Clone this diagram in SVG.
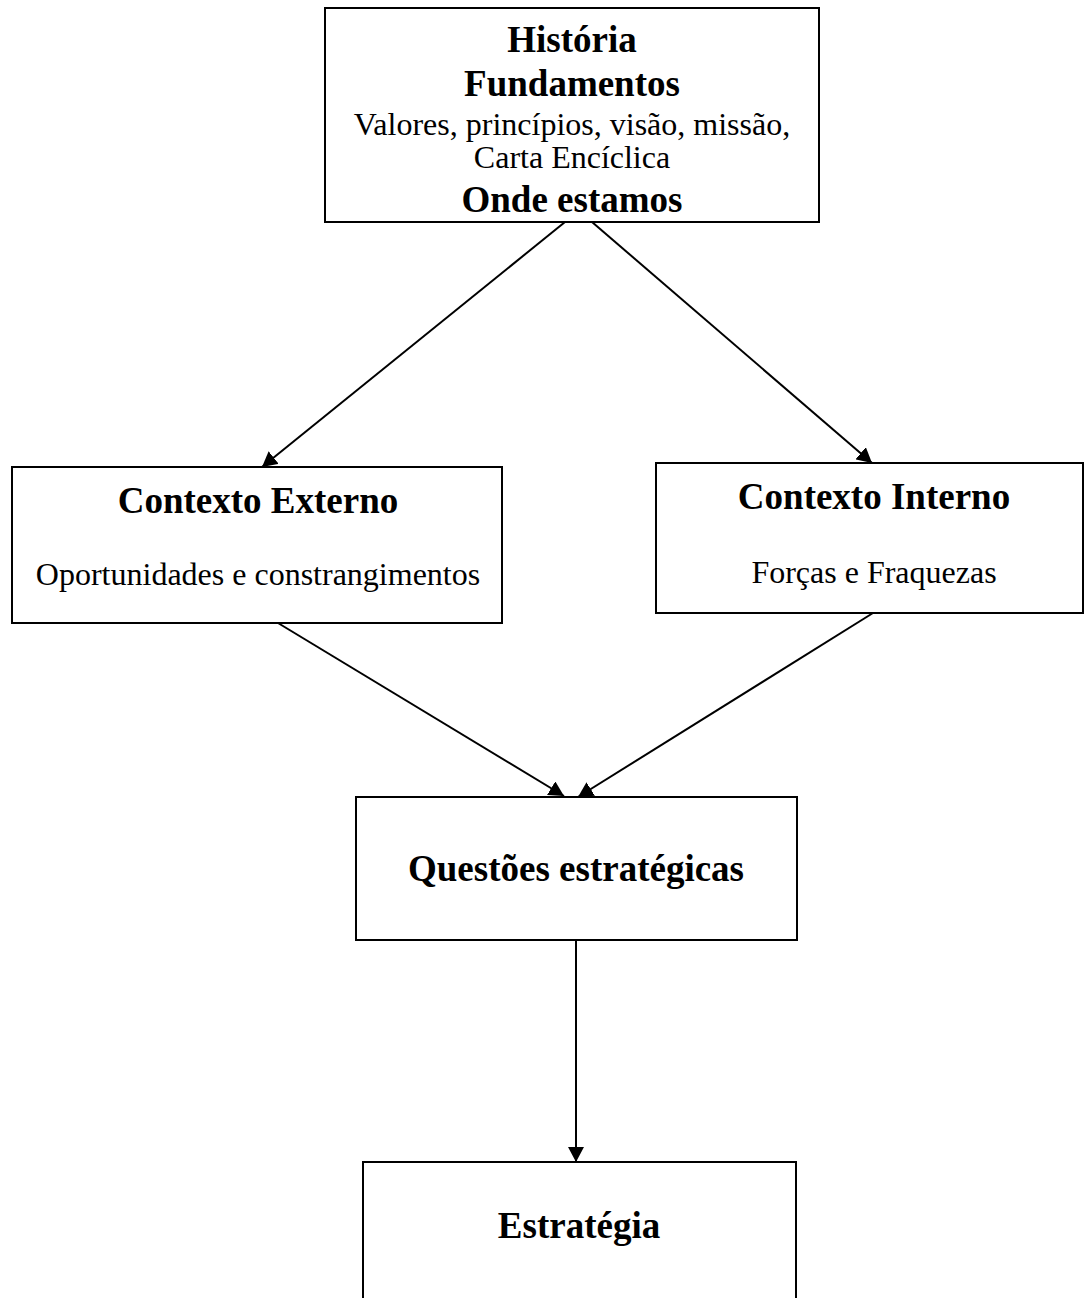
<svg xmlns="http://www.w3.org/2000/svg" width="1084" height="1298" viewBox="0 0 1084 1298">
<style>
.box{fill:#fff;stroke:#000;stroke-width:2}
.b{font-family:"Liberation Serif","Times New Roman",serif;font-weight:bold;font-size:37px;fill:#000;text-anchor:middle}
.r{font-family:"Liberation Serif","Times New Roman",serif;font-size:32px;fill:#000;text-anchor:middle}
.c{stroke:#000;stroke-width:2;fill:none;marker-end:url(#ah)}
</style>
<defs>
<marker id="ah" markerUnits="userSpaceOnUse" markerWidth="16" markerHeight="16" refX="15" refY="8" orient="auto">
<path d="M0,0 L15,8 L0,16 z" fill="#000"/>
</marker>
</defs>
<rect width="1084" height="1298" fill="#fff"/>
<g id="connectors">
<line class="c" x1="565" y1="222" x2="262" y2="467"/>
<line class="c" x1="592" y1="222" x2="872" y2="463"/>
<line class="c" x1="278" y1="623" x2="564" y2="796"/>
<line class="c" x1="873" y1="613" x2="578" y2="797"/>
<line class="c" x1="576" y1="940" x2="576" y2="1162"/>
</g>
<g id="historia">
<rect class="box" x="325" y="8" width="494" height="214"/>
<text class="b" x="572" y="52">História</text>
<text class="b" x="572" y="96">Fundamentos</text>
<text class="r" x="572" y="135">Valores, princípios, visão, missão,</text>
<text class="r" x="572" y="168">Carta Encíclica</text>
<text class="b" x="572" y="212">Onde estamos</text>
</g>
<g id="externo">
<rect class="box" x="12" y="467" width="490" height="156"/>
<text class="b" x="258" y="513">Contexto Externo</text>
<text class="r" x="258" y="585">Oportunidades e constrangimentos</text>
</g>
<g id="interno">
<rect class="box" x="656" y="463" width="427" height="150"/>
<text class="b" x="874" y="509">Contexto Interno</text>
<text class="r" x="874" y="583">Forças e Fraquezas</text>
</g>
<g id="questoes">
<rect class="box" x="356" y="797" width="441" height="143"/>
<text class="b" x="576" y="881">Questões estratégicas</text>
</g>
<g id="estrategia">
<rect class="box" x="363" y="1162" width="433" height="150"/>
<text class="b" x="579" y="1238">Estratégia</text>
</g>
</svg>
